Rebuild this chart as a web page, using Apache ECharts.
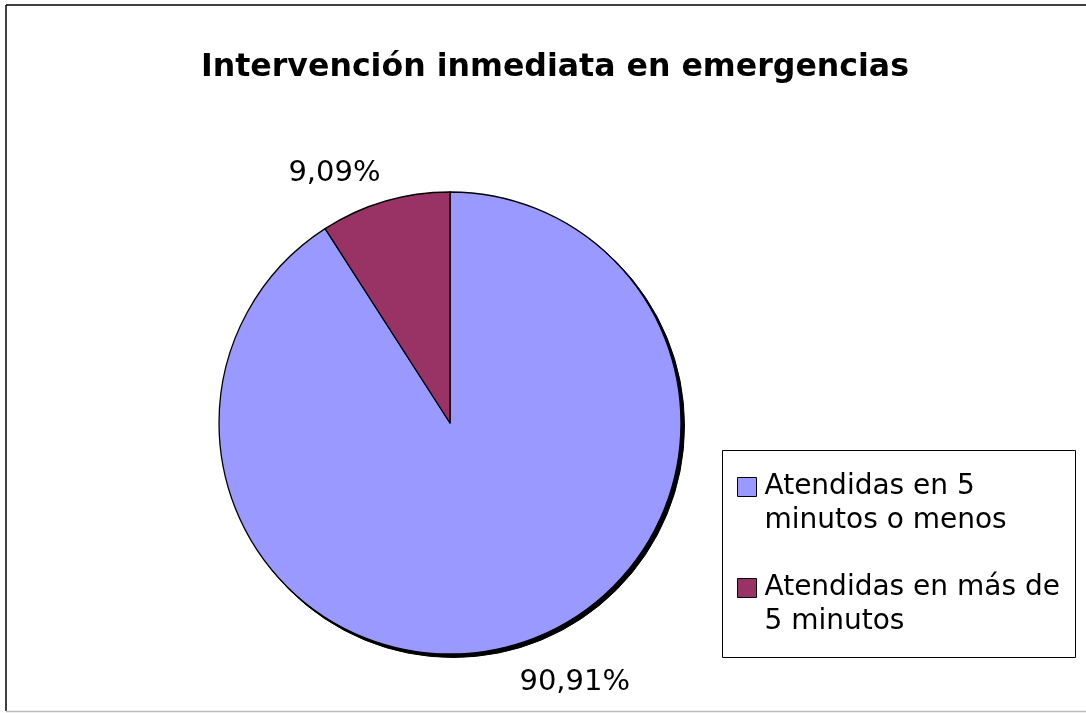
<!DOCTYPE html>
<html>
<head>
<meta charset="utf-8">
<script src="https://cdn.jsdelivr.net/npm/echarts@6/dist/echarts.min.js"></script>
<style>
  html, body { margin: 0; padding: 0; background: #fff; }
  #chart { width: 1086px; height: 713px; }
</style>
</head>
<body>
<div id="chart"></div>
<script>
const titleText = 'Intervención inmediata en emergencias';
const categories = ['Atendidas en 5 minutos o menos', 'Atendidas en más de 5 minutos'];
const legendLabels = ['Atendidas en 5\nminutos o menos', 'Atendidas en más de\n5 minutos'];
const percentValues = [90.91, 9.09];
const sliceColors = ['#9999FF', '#993366'];

const FONT = 'DejaVu Sans, Verdana, sans-serif';
const fmt = v => v.toFixed(2).replace('.', ',') + '%';

const mainData = categories.map((c, i) => ({
  name: c, value: percentValues[i], itemStyle: { color: sliceColors[i] }
}));
const shadowData = categories.map((c, i) => ({
  name: 'sombra' + i, value: percentValues[i]
}));

// small nudges of the percentage labels away from their default outside spot
const labelNudge = [[-4, 26], [4, -16]];

const chart = echarts.init(document.getElementById('chart'), null, { renderer: 'canvas' });
chart.setOption({
  backgroundColor: '#ffffff',
  animation: false,
  title: {
    text: titleText,
    left: 550,
    top: 47,
    textAlign: 'center',
    textStyle: { fontFamily: FONT, fontWeight: 'bold', fontSize: 31.6, color: '#000' }
  },
  legend: {
    orient: 'vertical',
    left: 737,
    top: 436,
    padding: 0,
    itemGap: -1,
    itemWidth: 19,
    itemHeight: 19,
    icon: 'rect',
    selectedMode: false,
    data: categories,
    // leading blank line keeps the first text line level with the swatch
    formatter: name => '\n' + legendLabels[categories.indexOf(name)],
    itemStyle: { borderColor: '#000', borderWidth: 1 },
    textStyle: { fontFamily: FONT, fontSize: 28, color: '#000', lineHeight: 34, padding: [0, 0, 0, 3] }
  },
  graphic: [
    { type: 'rect', shape: { x: 722.5, y: 450.5, width: 353, height: 207 },
      style: { fill: 'none', stroke: '#000', lineWidth: 1 }, z: 0 },
    { type: 'line', shape: { x1: 6, y1: 5, x2: 1090, y2: 5 }, style: { stroke: '#000', lineWidth: 1.5 } },
    { type: 'line', shape: { x1: 6, y1: 5, x2: 6, y2: 711 }, style: { stroke: '#000', lineWidth: 1.5 } },
    { type: 'line', shape: { x1: 6, y1: 711.5, x2: 1090, y2: 711.5 }, style: { stroke: '#bbb', lineWidth: 1.5 } }
  ],
  series: [
    {
      type: 'pie',
      z: 1,
      silent: true,
      center: [453, 426],
      radius: [0, 231.5],
      startAngle: 90,
      clockwise: true,
      data: shadowData,
      itemStyle: { color: '#000', borderColor: '#000', borderWidth: 1 },
      label: { show: false },
      labelLine: { show: false },
      legendHoverLink: false
    },
    {
      type: 'pie',
      z: 2,
      center: [450, 423],
      radius: [0, 231],
      startAngle: 90,
      clockwise: true,
      data: mainData,
      itemStyle: { borderColor: '#000', borderWidth: 1.3 },
      label: {
        show: true,
        position: 'outside',
        formatter: p => fmt(p.value),
        fontFamily: FONT,
        fontSize: 29,
        color: '#000'
      },
      labelLine: { show: false, length: 12, length2: 0 },
      labelLayout: p => ({ dx: labelNudge[p.dataIndex][0], dy: labelNudge[p.dataIndex][1] }),
      emphasis: { disabled: true }
    }
  ]
});
</script>
</body>
</html>
